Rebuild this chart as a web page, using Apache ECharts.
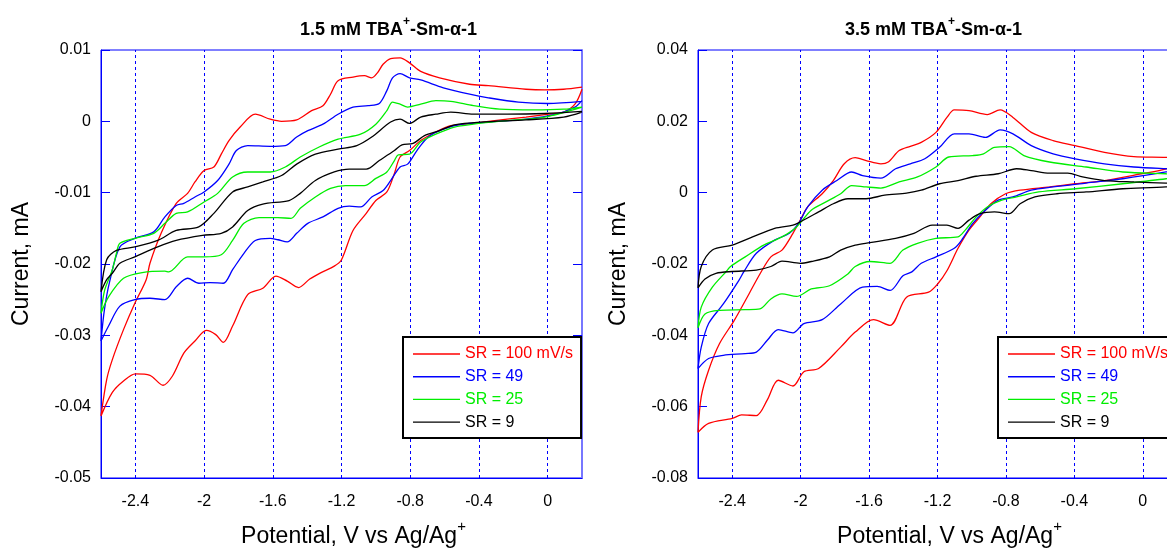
<!DOCTYPE html>
<html>
<head>
<meta charset="utf-8">
<script src="https://cdn.jsdelivr.net/npm/echarts@6/dist/echarts.min.js"></script>
<style>
  html, body { margin: 0; padding: 0; background: #fff; }
  #chart { width: 1167px; height: 548px; }
</style>
</head>
<body>
<div id="chart"></div>
<script>
// scan rates (legend)
const rateNames = ['SR = 100 mV/s', 'SR = 49', 'SR = 25', 'SR = 9'];
const rateColors = ['#ff0000', '#0000ff', '#00ee00', '#000000'];
const gridTicks = [-2.4, -2, -1.6, -1.2, -0.8, -0.4, 0];

// 1.5 mM panel, [potential V, current mA], each branch read left to right
const red15Lower = [[-2.6,-0.0413],[-2.534,-0.038],[-2.469,-0.0364],[-2.4,-0.0354],[-2.315,-0.0356],[-2.239,-0.037],[-2.184,-0.0357],[-2.118,-0.0325],[-2.053,-0.0308],[-1.987,-0.0293],[-1.932,-0.0299],[-1.888,-0.031],[-1.834,-0.0287],[-1.746,-0.0243],[-1.658,-0.0234],[-1.582,-0.0217],[-1.516,-0.0224],[-1.45,-0.0233],[-1.385,-0.0221],[-1.319,-0.0212],[-1.242,-0.0203],[-1.2,-0.0194],[-1.133,-0.0153],[-1.056,-0.0129],[-1.0,-0.0111],[-0.936,-0.0099],[-0.892,-0.0073],[-0.859,-0.005],[-0.804,-0.0041],[-0.739,-0.0027],[-0.651,-0.0015],[-0.564,-0.0006],[-0.476,-0.0004],[-0.345,0],[-0.126,0.0006],[0.006,0.001],[0.093,0.0013],[0.159,0.0024],[0.2,0.0045]];
const red15Upper = [[-2.6,-0.0413],[-2.567,-0.0362],[-2.534,-0.0334],[-2.469,-0.0292],[-2.403,-0.0255],[-2.337,-0.0222],[-2.315,-0.0199],[-2.25,-0.0157],[-2.162,-0.0115],[-2.096,-0.0101],[-2.053,-0.0085],[-2.0,-0.0069],[-1.943,-0.0064],[-1.9,-0.0046],[-1.855,-0.0027],[-1.79,-0.0008],[-1.702,0.001],[-1.615,0.0003],[-1.549,0],[-1.461,0.0002],[-1.374,0.0015],[-1.308,0.0022],[-1.264,0.0038],[-1.22,0.0057],[-1.133,0.0062],[-1.067,0.0064],[-1.024,0.0061],[-0.991,0.0068],[-0.958,0.008],[-0.914,0.0088],[-0.859,0.0089],[-0.804,0.0082],[-0.739,0.007],[-0.629,0.0061],[-0.454,0.0052],[-0.345,0.005],[-0.126,0.0045],[-0.016,0.0044],[0.093,0.0045],[0.2,0.0048]];
const blue15Lower = [[-2.6,-0.0308],[-2.556,-0.0287],[-2.49,-0.0259],[-2.403,-0.025],[-2.315,-0.0248],[-2.228,-0.025],[-2.162,-0.0232],[-2.096,-0.022],[-2.03,-0.0227],[-1.965,-0.0226],[-1.888,-0.0227],[-1.834,-0.0208],[-1.768,-0.0185],[-1.702,-0.0167],[-1.615,-0.0164],[-1.57,-0.0166],[-1.516,-0.0169],[-1.461,-0.0157],[-1.396,-0.0143],[-1.308,-0.0134],[-1.22,-0.0122],[-1.155,-0.0119],[-1.089,-0.012],[-1.024,-0.0106],[-0.958,-0.0097],[-0.914,-0.0083],[-0.859,-0.0064],[-0.815,-0.006],[-0.761,-0.0041],[-0.695,-0.0022],[-0.607,-0.0011],[-0.498,-0.0004],[-0.345,-0.0001],[-0.126,0.0003],[0.05,0.001],[0.159,0.002],[0.2,0.0029]];
const blue15Upper = [[-2.6,-0.0308],[-2.58,-0.0264],[-2.55,-0.0225],[-2.49,-0.0176],[-2.403,-0.0164],[-2.293,-0.0155],[-2.228,-0.0134],[-2.162,-0.0118],[-2.118,-0.0115],[-2.053,-0.0106],[-2.0,-0.0099],[-1.921,-0.0083],[-1.855,-0.006],[-1.812,-0.0041],[-1.746,-0.0034],[-1.615,-0.0035],[-1.527,-0.0034],[-1.461,-0.0022],[-1.396,-0.0013],[-1.308,-0.0004],[-1.22,0.001],[-1.133,0.002],[-1.045,0.0022],[-0.98,0.0025],[-0.936,0.0043],[-0.903,0.0061],[-0.859,0.0067],[-0.804,0.0061],[-0.739,0.0058],[-0.607,0.0047],[-0.454,0.0038],[-0.345,0.0033],[-0.17,0.0027],[0.0,0.0025],[0.2,0.0028]];
const green15Lower = [[-2.6,-0.0269],[-2.556,-0.0246],[-2.469,-0.022],[-2.36,-0.0212],[-2.228,-0.021],[-2.206,-0.0211],[-2.096,-0.019],[-2.0,-0.019],[-1.9,-0.0187],[-1.834,-0.0167],[-1.768,-0.0143],[-1.68,-0.0135],[-1.571,-0.0135],[-1.494,-0.0136],[-1.44,-0.0122],[-1.352,-0.0106],[-1.264,-0.0094],[-1.177,-0.009],[-1.067,-0.009],[-1.0,-0.008],[-0.936,-0.0071],[-0.892,-0.0055],[-0.87,-0.0047],[-0.804,-0.0046],[-0.739,-0.0029],[-0.651,-0.0018],[-0.542,-0.0008],[-0.432,-0.0004],[-0.235,0.0001],[-0.016,0.0006],[0.2,0.002]];
const green15Upper = [[-2.6,-0.0269],[-2.578,-0.0236],[-2.534,-0.0208],[-2.51,-0.0185],[-2.49,-0.0171],[-2.403,-0.0164],[-2.293,-0.0157],[-2.228,-0.0143],[-2.162,-0.0129],[-2.096,-0.0127],[-2.0,-0.0113],[-1.921,-0.0101],[-1.834,-0.0078],[-1.746,-0.0071],[-1.615,-0.0071],[-1.527,-0.0064],[-1.44,-0.005],[-1.33,-0.0036],[-1.22,-0.0025],[-1.089,-0.0018],[-1.0,-0.0004],[-0.936,0.0015],[-0.903,0.0027],[-0.859,0.0024],[-0.815,0.002],[-0.739,0.0024],[-0.651,0.0029],[-0.564,0.0028],[-0.432,0.0022],[-0.279,0.0017],[-0.082,0.0016],[0.093,0.0017],[0.2,0.002]];
const black15Lower = [[-2.6,-0.0239],[-2.567,-0.0222],[-2.534,-0.0213],[-2.49,-0.0199],[-2.403,-0.019],[-2.27,-0.0176],[-2.162,-0.0167],[-2.009,-0.016],[-1.9,-0.0157],[-1.834,-0.0148],[-1.746,-0.0125],[-1.658,-0.0116],[-1.505,-0.0111],[-1.44,-0.0101],[-1.352,-0.0083],[-1.242,-0.0071],[-1.155,-0.0067],[-1.056,-0.0067],[-0.98,-0.0055],[-0.892,-0.0041],[-0.848,-0.0033],[-0.783,-0.0031],[-0.717,-0.002],[-0.629,-0.0013],[-0.542,-0.0005],[-0.389,-0.0001],[-0.126,0.0002],[0.093,0.0006],[0.2,0.0013]];
const black15Upper = [[-2.6,-0.0239],[-2.567,-0.0194],[-2.51,-0.0181],[-2.403,-0.0176],[-2.27,-0.0167],[-2.162,-0.0153],[-2.031,-0.0148],[-1.943,-0.0129],[-1.834,-0.0099],[-1.746,-0.0092],[-1.658,-0.0085],[-1.549,-0.0076],[-1.461,-0.006],[-1.352,-0.0046],[-1.22,-0.0039],[-1.111,-0.0034],[-1.024,-0.0022],[-0.914,-0.0001],[-0.859,0.0003],[-0.804,-0.0003],[-0.739,0.0006],[-0.651,0.001],[-0.564,0.0013],[-0.432,0.001],[-0.235,0.001],[-0.016,0.0011],[0.2,0.0014]];

// 3.5 mM panel
const red35Lower = [[-2.6,-0.0672],[-2.538,-0.0647],[-2.4,-0.0633],[-2.345,-0.0623],[-2.259,-0.0625],[-2.195,-0.0581],[-2.131,-0.0526],[-2.045,-0.0542],[-1.981,-0.0502],[-1.895,-0.0493],[-1.766,-0.0433],[-1.681,-0.0391],[-1.574,-0.0356],[-1.477,-0.0372],[-1.381,-0.0293],[-1.252,-0.0279],[-1.199,-0.0256],[-1.145,-0.0219],[-1.08,-0.0156],[-1.016,-0.0105],[-0.952,-0.0068],[-0.888,-0.0031],[-0.802,-0.0003],[-0.717,0.0007],[-0.545,0.0016],[-0.395,0.0025],[-0.224,0.0034],[-0.009,0.0053],[0.136,0.0067],[0.2,0.0085]];
const red35Upper = [[-2.6,-0.0672],[-2.581,-0.0572],[-2.538,-0.0498],[-2.474,-0.0423],[-2.388,-0.0358],[-2.302,-0.0284],[-2.238,-0.0228],[-2.174,-0.018],[-2.109,-0.0161],[-2.045,-0.0114],[-2.002,-0.0077],[-1.959,-0.004],[-1.874,-0.0003],[-1.809,0.0034],[-1.745,0.0081],[-1.681,0.0098],[-1.617,0.009],[-1.531,0.0081],[-1.488,0.0086],[-1.424,0.0118],[-1.359,0.013],[-1.295,0.0141],[-1.209,0.0169],[-1.145,0.0211],[-1.102,0.0232],[-1.016,0.023],[-0.909,0.0219],[-0.834,0.0232],[-0.759,0.0211],[-0.652,0.0169],[-0.524,0.0146],[-0.395,0.0132],[-0.224,0.0113],[-0.052,0.0101],[0.136,0.0099],[0.2,0.0095]];
const blue35Lower = [[-2.6,-0.0493],[-2.538,-0.0465],[-2.452,-0.0456],[-2.324,-0.0451],[-2.259,-0.0447],[-2.195,-0.0414],[-2.131,-0.0384],[-2.045,-0.0393],[-1.981,-0.0367],[-1.874,-0.0356],[-1.766,-0.0312],[-1.638,-0.0265],[-1.552,-0.0263],[-1.477,-0.0274],[-1.402,-0.0233],[-1.35,-0.0222],[-1.295,-0.0198],[-1.209,-0.018],[-1.102,-0.0156],[-1.059,-0.0133],[-0.995,-0.0087],[-0.931,-0.0054],[-0.845,-0.0021],[-0.759,-0.0012],[-0.652,0.0007],[-0.524,0.0016],[-0.331,0.0027],[-0.117,0.0039],[0.136,0.0058],[0.2,0.0065]];
const blue35Upper = [[-2.6,-0.0493],[-2.581,-0.0433],[-2.538,-0.0367],[-2.452,-0.0312],[-2.36,-0.0245],[-2.33,-0.022],[-2.259,-0.017],[-2.152,-0.0133],[-2.066,-0.0114],[-2.013,-0.0087],[-1.959,-0.004],[-1.874,0.0007],[-1.788,0.0034],[-1.702,0.0058],[-1.638,0.0048],[-1.531,0.0041],[-1.445,0.0067],[-1.359,0.0081],[-1.274,0.0095],[-1.188,0.0127],[-1.102,0.0165],[-1.016,0.0165],[-0.92,0.0155],[-0.834,0.0176],[-0.759,0.0165],[-0.652,0.0132],[-0.524,0.0109],[-0.395,0.0095],[-0.224,0.0081],[-0.052,0.0072],[0.136,0.0067],[0.2,0.0066]];
const green35Lower = [[-2.6,-0.0379],[-2.559,-0.034],[-2.474,-0.033],[-2.324,-0.0328],[-2.238,-0.0326],[-2.174,-0.0298],[-2.109,-0.0284],[-2.024,-0.0291],[-1.938,-0.027],[-1.831,-0.0261],[-1.724,-0.0228],[-1.681,-0.0207],[-1.595,-0.0193],[-1.477,-0.0198],[-1.402,-0.0161],[-1.317,-0.0142],[-1.209,-0.0128],[-1.08,-0.0124],[-1.038,-0.0105],[-0.974,-0.0068],[-0.909,-0.004],[-0.824,-0.0021],[-0.738,-0.0012],[-0.609,0.0002],[-0.395,0.0011],[-0.117,0.0025],[0.136,0.0039],[0.2,0.0045]];
const green35Upper = [[-2.6,-0.0379],[-2.581,-0.0321],[-2.516,-0.0265],[-2.431,-0.0219],[-2.41,-0.0207],[-2.324,-0.018],[-2.216,-0.0147],[-2.109,-0.0124],[-2.024,-0.0096],[-1.938,-0.0049],[-1.852,-0.0026],[-1.766,-0.0003],[-1.702,0.002],[-1.617,0.0016],[-1.531,0.0013],[-1.424,0.003],[-1.317,0.0044],[-1.209,0.0072],[-1.134,0.01],[-0.995,0.0104],[-0.931,0.0109],[-0.867,0.0127],[-0.781,0.0129],[-0.695,0.0104],[-0.545,0.0086],[-0.331,0.0072],[-0.117,0.0058],[0.136,0.0053],[0.2,0.0052]];
const black35Lower = [[-2.6,-0.0267],[-2.559,-0.0242],[-2.495,-0.0226],[-2.4,-0.0221],[-2.259,-0.0217],[-2.174,-0.0207],[-2.109,-0.0192],[-2.002,-0.0198],[-1.938,-0.0193],[-1.831,-0.018],[-1.766,-0.0161],[-1.681,-0.0147],[-1.595,-0.014],[-1.445,-0.0128],[-1.338,-0.0114],[-1.231,-0.0091],[-1.145,-0.0091],[-1.08,-0.01],[-1.016,-0.0077],[-0.952,-0.0059],[-0.867,-0.0054],[-0.781,-0.0059],[-0.717,-0.0031],[-0.631,-0.0012],[-0.502,-0.0003],[-0.331,0.0002],[-0.117,0.0011],[0.136,0.0016],[0.2,0.0022]];
const black35Upper = [[-2.6,-0.0267],[-2.581,-0.0207],[-2.516,-0.0161],[-2.4,-0.0147],[-2.281,-0.0124],[-2.152,-0.01],[-2.045,-0.0091],[-2.002,-0.0082],[-1.895,-0.0054],[-1.809,-0.0031],[-1.724,-0.0017],[-1.617,-0.0017],[-1.509,-0.0007],[-1.381,-0.0001],[-1.295,0.0007],[-1.188,0.0025],[-1.08,0.0034],[-0.974,0.0046],[-0.845,0.0053],[-0.738,0.0067],[-0.652,0.0062],[-0.545,0.0055],[-0.438,0.0055],[-0.352,0.0044],[-0.224,0.0034],[-0.052,0.003],[0.136,0.0027],[0.2,0.0026]];

const font = '"Liberation Sans", Arial, sans-serif';
const blue = '#0000ff';

// closed loop: cathodic sweep 0.2 -> -2.6, then back
function loop(lower, upper) {
  return lower.slice().reverse().concat(upper.slice(1));
}

const panel15 = [[red15Lower, red15Upper], [blue15Lower, blue15Upper], [green15Lower, green15Upper], [black15Lower, black15Upper]];
const panel35 = [[red35Lower, red35Upper], [blue35Lower, blue35Upper], [green35Lower, green35Upper], [black35Lower, black35Upper]];

const chart = echarts.init(document.getElementById('chart'));

function xAx(gridIndex) {
  return {
    type: 'value', gridIndex: gridIndex, min: -2.6, max: 0.2,
    axisLine: { show: true, onZero: false, lineStyle: { color: blue, width: 1 } },
    axisTick: { show: false },
    splitLine: { show: false },
    axisLabel: {
      customValues: gridTicks, margin: 16, color: '#000', fontSize: 16, fontFamily: font,
      formatter: v => String(+v.toFixed(1))
    },
    name: '{t|Potential, V vs Ag/Ag}{sup|+}',
    nameLocation: 'middle', nameGap: 41,
    nameTextStyle: {
      padding: [0, 0, 0, 24],
      rich: {
        t: { fontSize: 23, fontFamily: font, color: '#000', lineHeight: 29, verticalAlign: 'bottom' },
        sup: { fontSize: 15, fontFamily: font, color: '#000', lineHeight: 15, verticalAlign: 'top' }
      }
    }
  };
}

function yAx(gridIndex, min, max, step, right) {
  return {
    type: 'value', gridIndex: gridIndex, min: min, max: max, interval: step,
    position: right ? 'right' : 'left',
    axisLine: { show: true, onZero: false, lineStyle: { color: right ? '#7777ff' : blue, width: right ? 2 : 1 } },
    axisTick: { show: true, inside: true, length: 9, lineStyle: { color: blue } },
    splitLine: { show: false },
    axisLabel: {
      show: !right, margin: 10, color: '#000', fontSize: 16, fontFamily: font,
      formatter: v => String(+v.toFixed(2))
    },
    name: right ? '' : 'Current, mA',
    nameLocation: 'middle', nameGap: 68,
    nameTextStyle: { fontSize: 23, fontFamily: font, color: '#000' }
  };
}

function buildSeries(panel, gridIndex) {
  return panel.map((b, i) => {
    const s = {
      name: rateNames[i], type: 'line',
      xAxisIndex: gridIndex, yAxisIndex: gridIndex * 2,
      data: loop(b[0], b[1]),
      showSymbol: false, symbol: 'none', smooth: 0.3,
      color: rateColors[i],
      lineStyle: { width: 1.3, color: rateColors[i] },
      z: 3
    };
    if (i === 0) {
      // dashed vertical guides at the labelled potentials
      s.markLine = {
        silent: true, symbol: ['none', 'none'], label: { show: false },
        lineStyle: { color: blue, type: [3, 3], width: 1 },
        data: gridTicks.map(v => ({ xAxis: v })),
        z: 1
      };
    }
    return s;
  });
}

function legendAt(left) {
  return {
    orient: 'vertical', left: left, top: 337,
    padding: [9, 8, 8, 10], itemGap: 6.7, itemWidth: 47, itemHeight: 1.4,
    icon: 'rect',
    backgroundColor: '#fff', borderColor: '#000', borderWidth: 2,
    selectedMode: false,
    textStyle: { fontSize: 16, lineHeight: 16, fontFamily: font },
    data: rateNames.map((n, i) => ({ name: n, textStyle: { color: rateColors[i] } })),
    z: 10
  };
}

const titleStyle = {
  rich: {
    t: { fontSize: 18, fontWeight: 'bold', fontFamily: font, color: '#000', lineHeight: 23, verticalAlign: 'bottom' },
    sup: { fontSize: 12, fontWeight: 'bold', fontFamily: font, color: '#000', lineHeight: 12, verticalAlign: 'top' }
  }
};

chart.setOption({
  animation: false,
  backgroundColor: '#fff',
  title: [
    { text: '{t|1.5 mM TBA}{sup|+}{t|-Sm-α-1}', left: 300, top: 16, padding: 0, textStyle: titleStyle },
    { text: '{t|3.5 mM TBA}{sup|+}{t|-Sm-α-1}', left: 845, top: 16, padding: 0, textStyle: titleStyle }
  ],
  grid: [
    { left: 101, top: 50, width: 481, height: 428, outerBoundsMode: 'none', show: true, borderColor: blue, borderWidth: 1 },
    { left: 698, top: 50, width: 479, height: 428, outerBoundsMode: 'none', show: true, borderColor: blue, borderWidth: 1 }
  ],
  legend: [legendAt(403), legendAt(998)],
  xAxis: [xAx(0), xAx(1)],
  yAxis: [
    yAx(0, -0.05, 0.01, 0.01, false), yAx(0, -0.05, 0.01, 0.01, true),
    yAx(1, -0.08, 0.04, 0.02, false), yAx(1, -0.08, 0.04, 0.02, true)
  ],
  series: buildSeries(panel15, 0).concat(buildSeries(panel35, 1))
});
</script>
</body>
</html>
